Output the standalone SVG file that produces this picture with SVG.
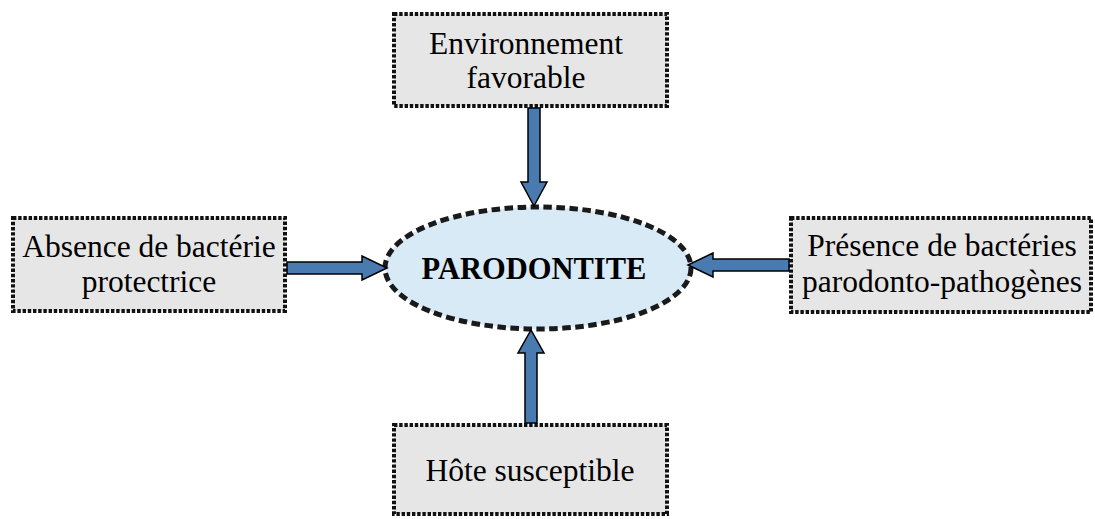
<svg xmlns="http://www.w3.org/2000/svg" width="1095" height="519" viewBox="0 0 1095 519">
  <style>
    .box { fill: #e6e6e6; stroke: #111; stroke-width: 4; stroke-dasharray: 3.4 1.8; }
    .center { fill: #d8eaf6; stroke: #1a1a1a; stroke-width: 5; stroke-dasharray: 8.5 4.5; }
    .lbl { font-family: "Liberation Serif", "Times New Roman", serif; font-size: 31.5px; fill: #000; text-anchor: middle; }
    .title { font-family: "Liberation Serif", "Times New Roman", serif; font-size: 30.5px; font-weight: bold; fill: #000; text-anchor: middle; }
    .arrow { fill: #4a7bb0; stroke: #000; stroke-width: 1.5; stroke-linejoin: miter; }
  </style>
  <rect width="1095" height="519" fill="#fff"/>

  <g id="node-environnement">
    <rect class="box" x="394" y="14" width="273" height="92"/>
    <text class="lbl" x="526" y="54">Environnement</text>
    <text class="lbl" x="526" y="88">favorable</text>
  </g>

  <g id="node-absence">
    <rect class="box" x="13" y="218" width="272" height="93"/>
    <text class="lbl" x="149" y="257">Absence de bactérie</text>
    <text class="lbl" x="149" y="292">protectrice</text>
  </g>

  <g id="node-presence">
    <rect class="box" x="791" y="218" width="300" height="94"/>
    <text class="lbl" x="942" y="256">Présence de bactéries</text>
    <text class="lbl" x="942" y="292">parodonto-pathogènes</text>
  </g>

  <g id="node-hote">
    <rect class="box" x="394" y="425" width="273" height="89"/>
    <text class="lbl" x="530" y="481">Hôte susceptible</text>
  </g>

  <g id="node-parodontite">
    <ellipse class="center" cx="538" cy="268" rx="153" ry="61"/>
    <text class="title" x="534" y="279">PARODONTITE</text>
  </g>

  <g id="connectors">
    <polygon class="arrow" points="528,108 540,108 540,182 547,182 534,206 521,182 528,182"/>
    <polygon class="arrow" points="287,262 362,262 362,256 387,268 362,280 362,274 287,274"/>
    <polygon class="arrow" points="789,259 713,259 713,253 688,265 713,277 713,271 789,271"/>
    <polygon class="arrow" points="525,423 525,353 518,353 531,330 544,353 537,353 537,423"/>
  </g>
</svg>
